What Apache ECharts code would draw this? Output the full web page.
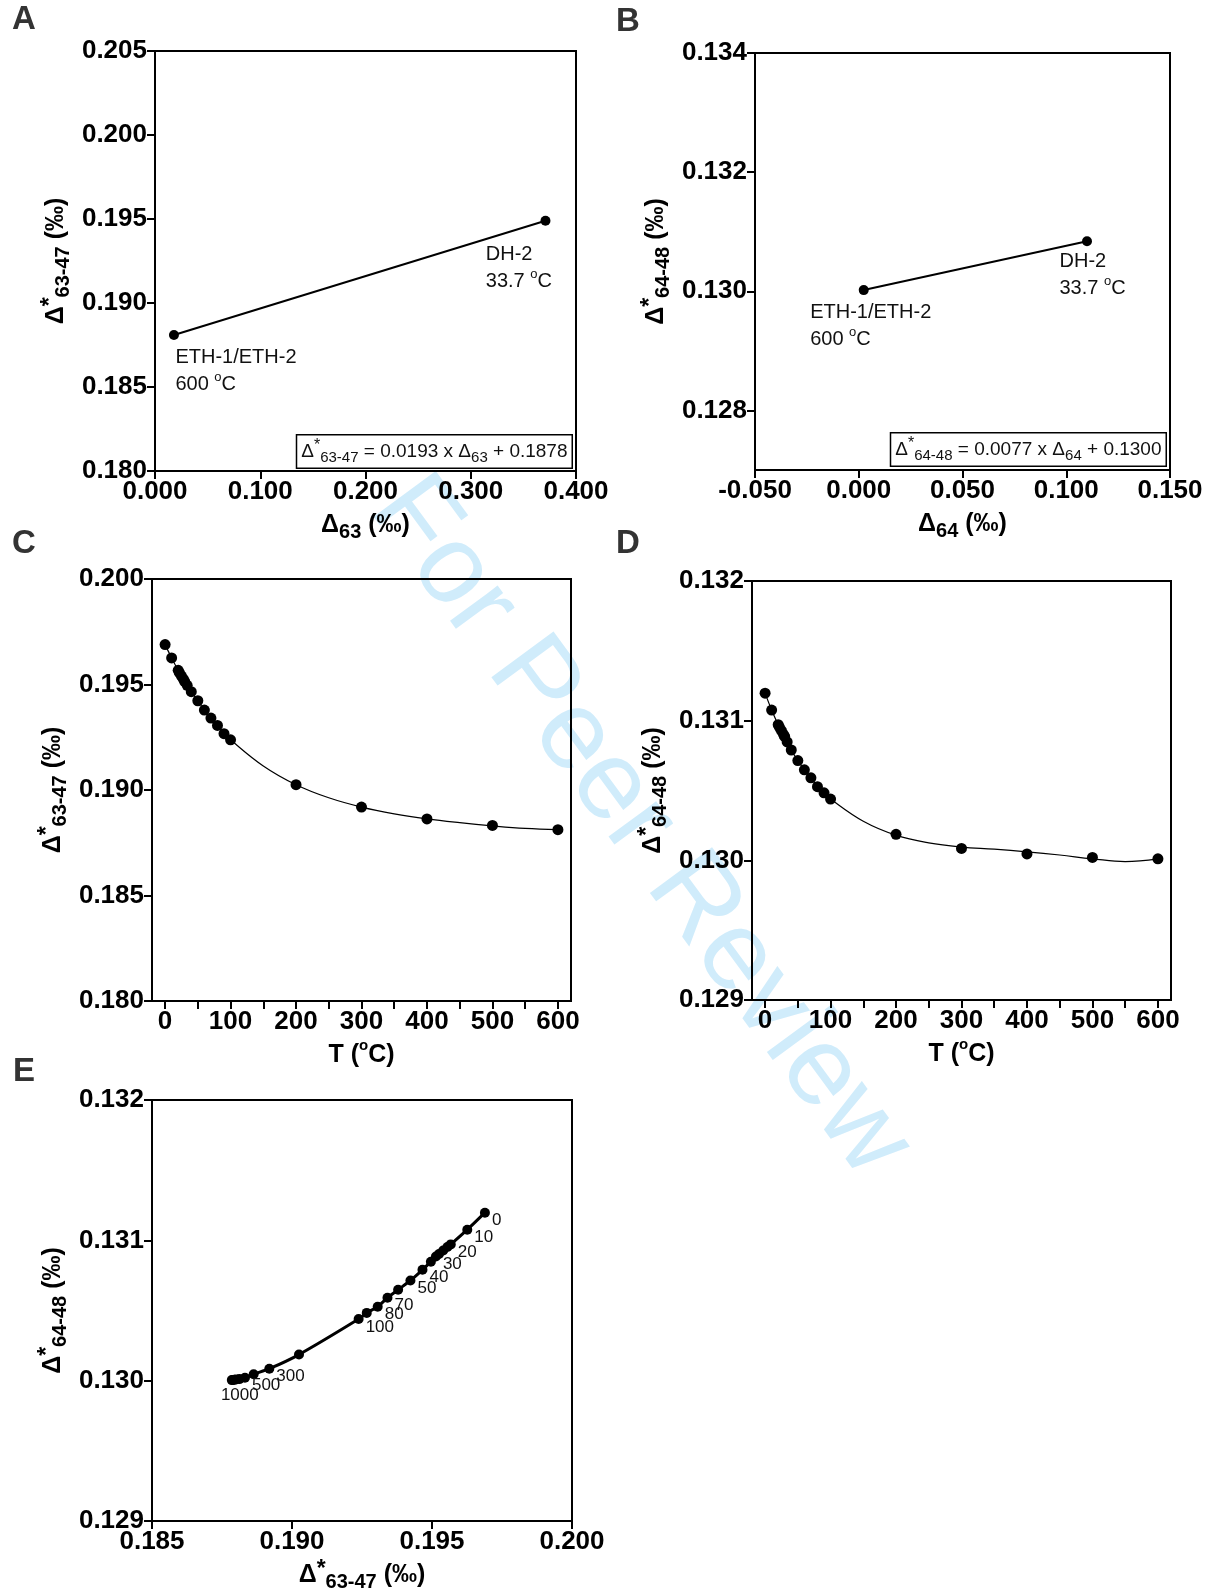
<!DOCTYPE html>
<html><head><meta charset="utf-8">
<script src="https://cdn.jsdelivr.net/npm/echarts@6/dist/echarts.min.js"></script>
<style>html,body{margin:0;padding:0;background:#fff}#c{width:1209px;height:1594px}</style>
</head><body><div id="c"></div>
<script>
// ---------------- DATA ----------------
// Panel A / B: reference materials
const sampleNames = ['ETH-1/ETH-2', 'DH-2'];
const sampleTemps = ['600', '33.7'];
const d63 = [0.018, 0.371];
const dStar6347AB = [0.1881, 0.1949];
const d64 = [0.0024, 0.110];
const dStar6448AB = [0.13002, 0.13084];
const eqA = ['0.0193', '0.1878'];
const eqB = ['0.0077', '0.1300'];

// Panels C / D: temperature dependence (points)
const tempsCD = [0, 10, 20, 22, 25, 28, 30, 33.7, 40, 50, 60, 70, 80, 90, 100, 200, 300, 400, 500, 600];
const d6347 = [0.19689, 0.19626, 0.19567, 0.19555, 0.19540, 0.19525, 0.19514, 0.19496, 0.19466, 0.19423,
               0.19379, 0.19341, 0.19306, 0.19267, 0.19238, 0.19025, 0.18919, 0.18863, 0.18832, 0.18812];
const d6448 = [0.131197, 0.131076, 0.130971, 0.130952, 0.130928, 0.130902, 0.130885, 0.130848, 0.130790, 0.130714,
               0.130648, 0.130591, 0.130527, 0.130483, 0.130439, 0.130186, 0.130085, 0.130046, 0.130021, 0.130011];

// Panels C / D: fitted curves
const fitTemps = [0, 10, 20, 30, 40, 50, 60, 70, 80, 90, 100, 150, 200, 250, 300, 350, 400, 450, 500, 550, 600];
const fit6347 = [0.19689, 0.19626, 0.19567, 0.19514, 0.19466, 0.19423, 0.19379, 0.19341, 0.19306, 0.19270, 0.19238,
                 0.19114, 0.19025, 0.18963, 0.18919, 0.18887, 0.18863, 0.18845, 0.18830, 0.18818, 0.18812];
const fit6448 = [0.131197, 0.131076, 0.130971, 0.130880, 0.130790, 0.130714, 0.130648, 0.130591, 0.130527, 0.130483, 0.130439,
                 0.130280, 0.130180, 0.130125, 0.130095, 0.130080, 0.130061, 0.130038, 0.130011, 0.129991, 0.130011];

// Panel E: Δ*63-47 vs Δ*64-48
const tempsE = [0, 10, 20, 22, 25, 28, 30, 33.7, 40, 50, 60, 70, 80, 90, 100, 200, 300, 400, 500, 600, 700, 800, 900, 1000];
const e6347 = [0.19689, 0.19626, 0.19567, 0.19555, 0.19540, 0.19525, 0.19514, 0.19496, 0.19466, 0.19423,
               0.19379, 0.19341, 0.19306, 0.19267, 0.19238, 0.19025, 0.18919, 0.18863, 0.18832, 0.18812,
               0.18800, 0.18794, 0.18789, 0.18785];
const e6448 = [0.131197, 0.131076, 0.130971, 0.130952, 0.130928, 0.130902, 0.130885, 0.130848, 0.130790, 0.130714,
               0.130648, 0.130591, 0.130527, 0.130483, 0.130439, 0.130186, 0.130085, 0.130046, 0.130021, 0.130011,
               0.130008, 0.130006, 0.130005, 0.130004];
const labeledTempsE = [0, 10, 20, 30, 40, 50, 70, 80, 100, 300, 500, 1000];

// Tick values
const ticksBy = [0.128, 0.130, 0.132, 0.134];
const ticksTmajor = [0, 100, 200, 300, 400, 500, 600];
const ticksTminor = [0, 50, 100, 150, 200, 250, 300, 350, 400, 450, 500, 550, 600];

// ---------------- STYLE ----------------
const FONT = "'Liberation Sans', Arial, Helvetica, sans-serif";
const nameRich = {
  d:   {fontFamily: FONT, fontSize: 25, fontWeight: 'bold', color: '#000', lineHeight: 34, verticalAlign: 'middle'},
  sup: {fontFamily: FONT, fontSize: 23, fontWeight: 'bold', color: '#000', lineHeight: 22, verticalAlign: 'top'},
  sub: {fontFamily: FONT, fontSize: 20, fontWeight: 'bold', color: '#000', lineHeight: 18, verticalAlign: 'bottom'},
  o:   {fontFamily: FONT, fontSize: 15, fontWeight: 'bold', color: '#000', lineHeight: 20, verticalAlign: 'top'}
};
const annRich = {
  n: {fontFamily: FONT, fontSize: 20, color: '#111', lineHeight: 27, verticalAlign: 'middle'},
  o: {fontFamily: FONT, fontSize: 13, color: '#111', lineHeight: 18, verticalAlign: 'top'}
};
const eqRich = {
  n: {fontFamily: FONT, fontSize: 19, color: '#111', lineHeight: 28, verticalAlign: 'middle'},
  s: {fontFamily: FONT, fontSize: 16, color: '#111', lineHeight: 18, verticalAlign: 'top'},
  b: {fontFamily: FONT, fontSize: 15, color: '#111', lineHeight: 16, verticalAlign: 'bottom'}
};

const fmt3 = v => v.toFixed(3);
const fmt0 = v => String(Math.round(v));

function axis(gi, min, max, opt) {
  const a = {
    type: 'value', gridIndex: gi, min: min, max: max,
    axisLine: {show: true, onZero: false, lineStyle: {color: '#000', width: 2}},
    axisTick: {show: true, inside: false, length: 8, lineStyle: {color: '#000', width: 2}},
    axisLabel: {color: '#000', fontFamily: FONT, fontSize: 26, fontWeight: 'bold', margin: 8, formatter: fmt3},
    splitLine: {show: false},
    nameLocation: 'middle',
    nameTextStyle: {rich: nameRich}
  };
  if (opt.interval !== undefined) a.interval = opt.interval;
  if (opt.ticks) a.axisTick.customValues = opt.ticks;
  if (opt.labels) a.axisLabel.customValues = opt.labels;
  if (opt.formatter) a.axisLabel.formatter = opt.formatter;
  a.name = opt.name; a.nameGap = opt.nameGap;
  if (opt.rotate) a.nameRotate = 90;
  return a;
}

const nY6347 = '{d|Δ}{sup|*}{sub|63-47}{d| (‰)}';
const nY6448 = '{d|Δ}{sup|*}{sub|64-48}{d| (‰)}';
const nT = '{d|T (}{o|o}{d|C)}';

const grids = [
  {left: 155, top: 51, width: 421, height: 420},
  {left: 755, top: 53, width: 415, height: 417},
  {left: 152, top: 579, width: 419, height: 422},
  {left: 752, top: 581, width: 419, height: 419},
  {left: 152, top: 1100, width: 420, height: 421}
].map(g => Object.assign(g, {show: true, borderColor: '#000', borderWidth: 2, backgroundColor: 'transparent'}));

const xAxes = [
  axis(0, 0, 0.4, {interval: 0.1, name: '{d|Δ}{sub|63}{d| (‰)}', nameGap: 37}),
  axis(1, -0.05, 0.15, {interval: 0.05, name: '{d|Δ}{sub|64}{d| (‰)}', nameGap: 37}),
  axis(2, -20, 620, {ticks: ticksTminor, labels: ticksTmajor, formatter: fmt0, name: nT, nameGap: 37}),
  axis(3, -20, 620, {ticks: ticksTminor, labels: ticksTmajor, formatter: fmt0, name: nT, nameGap: 37}),
  axis(4, 0.185, 0.200, {interval: 0.005, name: nY6347, nameGap: 37})
];
const yAxes = [
  axis(0, 0.180, 0.205, {interval: 0.005, name: nY6347, nameGap: 82, rotate: true}),
  axis(1, 0.127, 0.134, {ticks: ticksBy, labels: ticksBy, name: nY6448, nameGap: 82, rotate: true}),
  axis(2, 0.180, 0.200, {interval: 0.005, name: nY6347, nameGap: 82, rotate: true}),
  axis(3, 0.129, 0.132, {interval: 0.001, name: nY6448, nameGap: 82, rotate: true}),
  axis(4, 0.129, 0.132, {interval: 0.001, name: nY6448, nameGap: 82, rotate: true})
];

// label placement relative to symbol box (layout only)
const annPosA = [[6.5, 14], [-54.7, 25.5]];
const annPosB = [[-48.6, 13.6], [-22.5, 12]];
function annLabel(i, pos) {
  return {
    show: true, position: pos[i], align: 'left', verticalAlign: 'top',
    formatter: '{n|' + sampleNames[i] + '}\n{n|' + sampleTemps[i] + ' }{o|o}{n|C}',
    rich: annRich
  };
}

const seriesA = {
  type: 'line', xAxisIndex: 0, yAxisIndex: 0, symbol: 'circle', symbolSize: 10,
  lineStyle: {color: '#000', width: 2}, itemStyle: {color: '#000', opacity: 1}, z: 5,
  data: d63.map((x, i) => ({value: [x, dStar6347AB[i]], label: annLabel(i, annPosA)}))
};
const seriesB = {
  type: 'line', xAxisIndex: 1, yAxisIndex: 1, symbol: 'circle', symbolSize: 10,
  lineStyle: {color: '#000', width: 2}, itemStyle: {color: '#000', opacity: 1}, z: 5,
  data: d64.map((x, i) => ({value: [x, dStar6448AB[i]], label: annLabel(i, annPosB)}))
};
const fitC = {
  type: 'line', xAxisIndex: 2, yAxisIndex: 2, showSymbol: false, symbol: 'none', smooth: 0.4,
  lineStyle: {color: '#000', width: 1.2}, z: 4,
  data: fitTemps.map((t, i) => [t, fit6347[i]])
};
const ptsC = {
  type: 'scatter', xAxisIndex: 2, yAxisIndex: 2, symbol: 'circle', symbolSize: 11,
  itemStyle: {color: '#000', opacity: 1}, z: 5,
  data: tempsCD.map((t, i) => [t, d6347[i]])
};
const fitD = {
  type: 'line', xAxisIndex: 3, yAxisIndex: 3, showSymbol: false, symbol: 'none', smooth: 0.4,
  lineStyle: {color: '#000', width: 1.2}, z: 4,
  data: fitTemps.map((t, i) => [t, fit6448[i]])
};
const ptsD = {
  type: 'scatter', xAxisIndex: 3, yAxisIndex: 3, symbol: 'circle', symbolSize: 11,
  itemStyle: {color: '#000', opacity: 1}, z: 5,
  data: tempsCD.map((t, i) => [t, d6448[i]])
};
const lineE = {
  type: 'line', xAxisIndex: 4, yAxisIndex: 4, symbol: 'circle', symbolSize: 10, smooth: 0.3,
  lineStyle: {color: '#000', width: 3}, itemStyle: {color: '#000', opacity: 1}, z: 5,
  data: tempsE.map((t, i) => {
    const show = labeledTempsE.indexOf(t) >= 0;
    const lab = {show: show, formatter: String(t), fontFamily: FONT, fontSize: 17, color: '#111'};
    if (t === 1000) { lab.position = 'bottom'; lab.distance = 2; lab.offset = [8, 0]; }
    else { lab.position = 'right'; lab.distance = 1; lab.offset = [1, 8]; }
    return {value: [e6347[i], e6448[i]], label: lab};
  })
};

function letter(ch, x, y) {
  return {type: 'text', x: x, y: y, z: 10,
    style: {text: ch, fill: '#333', font: 'bold 33px ' + FONT, fontSize: 33, fontWeight: 'bold', fontFamily: FONT,
            align: 'left', verticalAlign: 'top', textAlign: 'left', textVerticalAlign: 'top'}};
}
function eqBox(name, sub, vals, right, bottom) {
  return {type: 'text', right: right, bottom: bottom, z: 10,
    style: {text: '{n|Δ}{s|*}{b|' + name + '}{n| = ' + vals[0] + ' x Δ}{b|' + sub + '}{n| + ' + vals[1] + '}',
            rich: eqRich, fill: '#111', backgroundColor: '#fff', borderColor: '#000', borderWidth: 1.5,
            padding: [2, 4, 2, 4]}};
}

const option = {
  animation: false,
  backgroundColor: '#fff',
  grid: grids, xAxis: xAxes, yAxis: yAxes,
  series: [seriesA, seriesB, fitC, ptsC, fitD, ptsD, lineE],
  graphic: [
    {type: 'text', x: 640, y: 827, rotation: -0.937, z: -1, silent: true,
     style: {text: 'For Peer Review', fill: '#d0ecfb', font: '112px ' + FONT, fontSize: 112, fontFamily: FONT,
             align: 'center', verticalAlign: 'middle', textAlign: 'center', textVerticalAlign: 'middle'}},
    letter('A', 12, 3), letter('B', 616, 5), letter('C', 12, 527), letter('D', 616, 527), letter('E', 13, 1055),
    eqBox('63-47', '63', eqA, 636, 1125),
    eqBox('64-48', '64', eqB, 42, 1127)
  ]
};
const chart = echarts.init(document.getElementById('c'), null, {renderer: 'canvas'});
chart.setOption(option);
</script></body></html>
